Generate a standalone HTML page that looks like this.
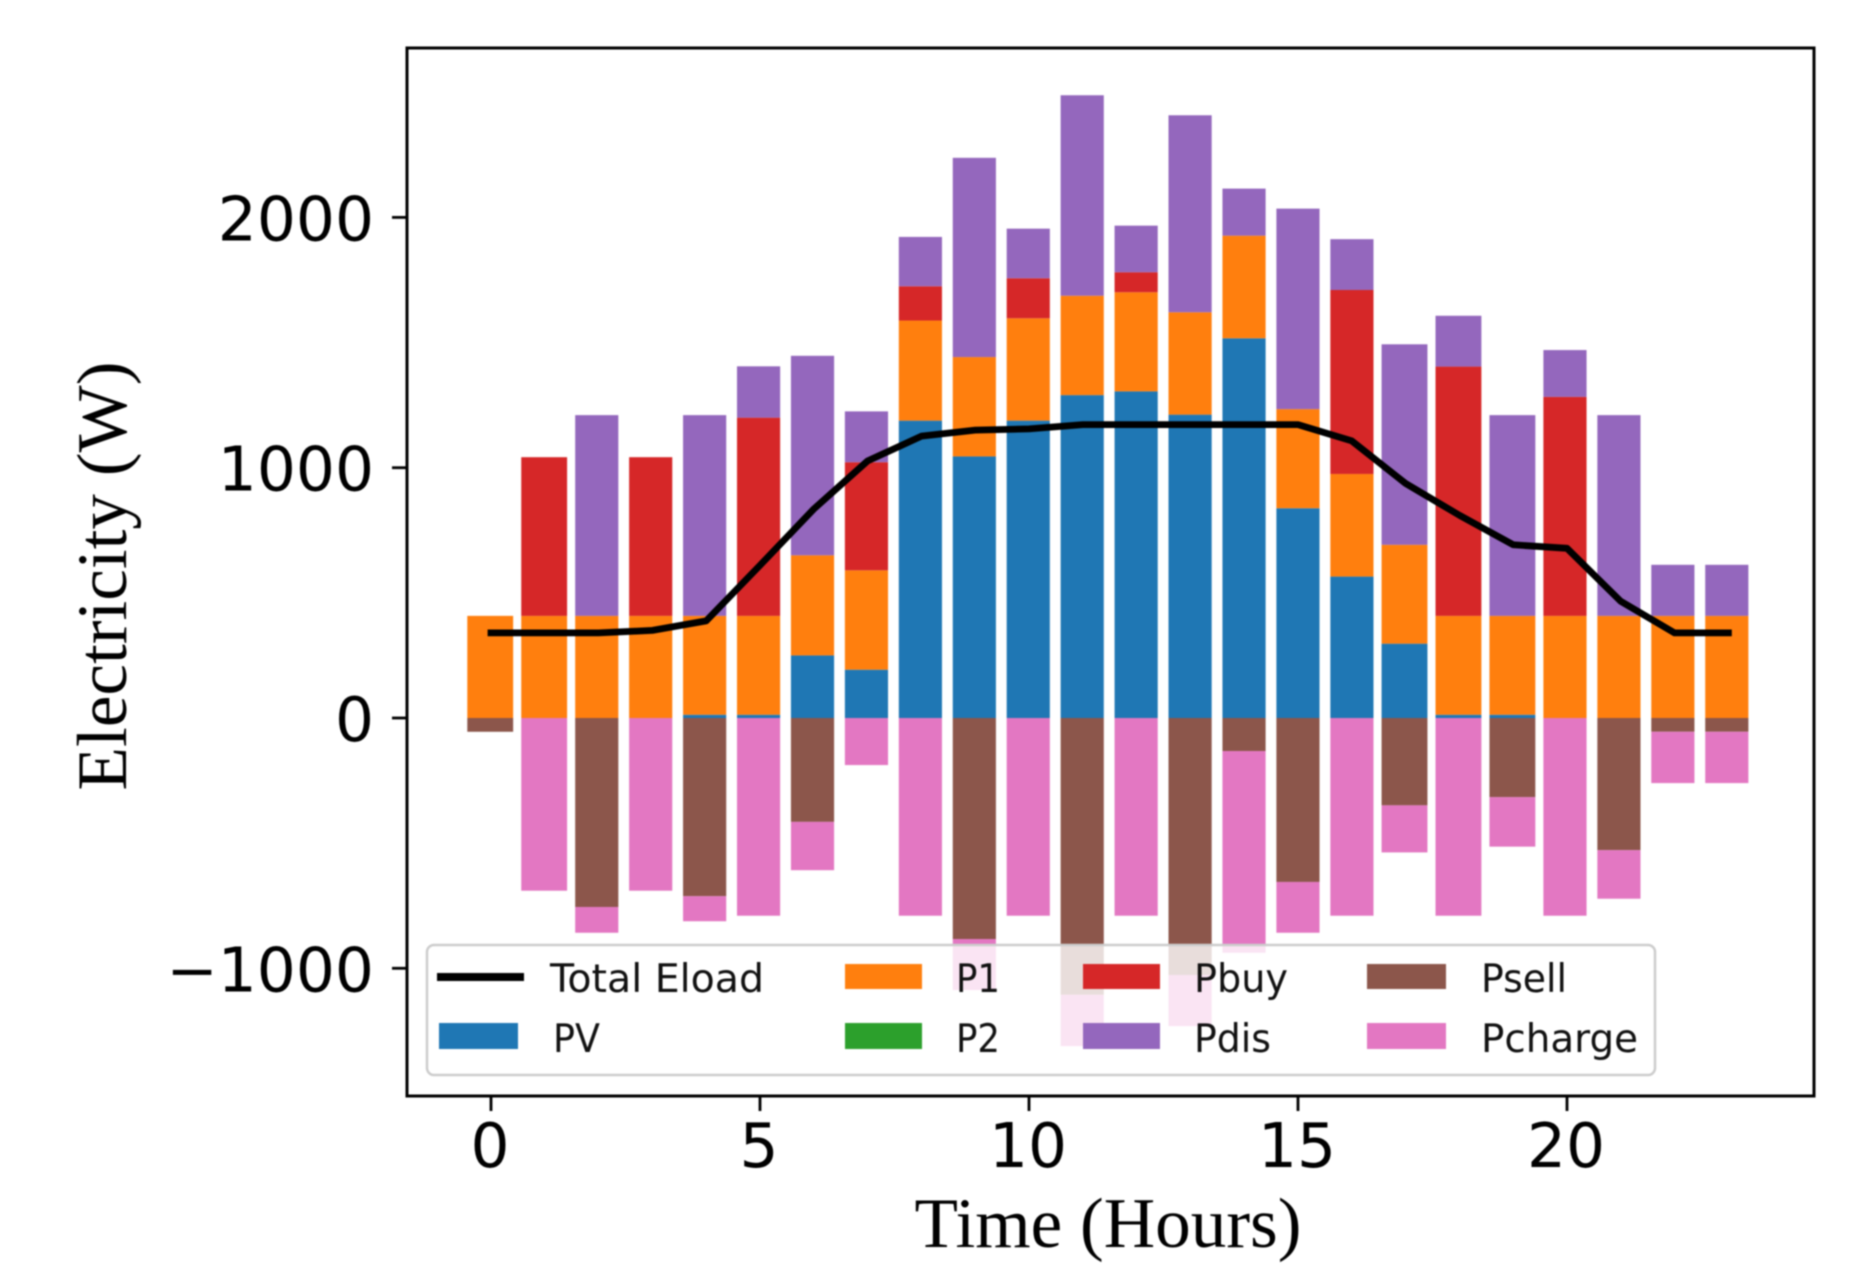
<!DOCTYPE html>
<html lang="en">
<head>
<meta charset="utf-8">
<title>Electricity by hour</title>
<style>
html,body{margin:0;padding:0;background:#fff;}
#chart{display:block;width:1850px;height:1288px;filter:blur(0.9px);}
.tick-label{font-family:"DejaVu Sans","Liberation Sans",sans-serif;font-size:61.4px;fill:#000;}
.axis-title{font-family:"Liberation Serif",serif;font-size:71.2px;fill:#000;}
.legend-label{font-family:"DejaVu Sans","Liberation Sans",sans-serif;font-size:39.5px;fill:#111;}
</style>
</head>
<body>
<svg id="chart" xmlns="http://www.w3.org/2000/svg" width="1850" height="1288" viewBox="0 0 1850 1288">
  <rect x="0" y="0" width="1850" height="1288" fill="#fff"/>
  <g id="bars"></g>
  <g id="line"></g>
  <g id="x-ticks"></g>
  <g id="y-ticks"></g>
  <rect x="407" y="48" width="1407" height="1048" fill="none" stroke="#000" stroke-width="3"/>
  <text class="axis-title" x="1108" y="1247" text-anchor="middle">Time (Hours)</text>
  <text class="axis-title" transform="translate(126,576) rotate(-90)" text-anchor="middle">Electricity (W)</text>
  <g>
    <rect x="427" y="945" width="1228" height="130" rx="7" ry="7" fill="#fff" fill-opacity="0.8" stroke="#ccc" stroke-width="2.5"/>
    <g>
      <line x1="437" y1="977" x2="524" y2="977" stroke="#000" stroke-width="8"/>
      <text class="legend-label" x="550" y="992" textLength="214" lengthAdjust="spacingAndGlyphs">Total Eload</text>
    </g>
    <g>
      <rect x="439" y="1023" width="79" height="26" fill="#1f77b4"/>
      <text class="legend-label" x="553" y="1052" textLength="47" lengthAdjust="spacingAndGlyphs">PV</text>
    </g>
    <g>
      <rect x="845" y="964" width="77" height="25" fill="#ff7f0e"/>
      <text class="legend-label" x="956" y="992" textLength="44" lengthAdjust="spacingAndGlyphs">P1</text>
    </g>
    <g>
      <rect x="845" y="1023" width="77" height="26" fill="#2ca02c"/>
      <text class="legend-label" x="956" y="1052" textLength="44" lengthAdjust="spacingAndGlyphs">P2</text>
    </g>
    <g>
      <rect x="1083" y="964" width="77" height="25" fill="#d62728"/>
      <text class="legend-label" x="1194" y="992" textLength="94" lengthAdjust="spacingAndGlyphs">Pbuy</text>
    </g>
    <g>
      <rect x="1083" y="1023" width="77" height="26" fill="#9467bd"/>
      <text class="legend-label" x="1194" y="1052" textLength="77" lengthAdjust="spacingAndGlyphs">Pdis</text>
    </g>
    <g>
      <rect x="1367" y="964" width="79" height="25" fill="#8c564b"/>
      <text class="legend-label" x="1481" y="992" textLength="86" lengthAdjust="spacingAndGlyphs">Psell</text>
    </g>
    <g>
      <rect x="1367" y="1023" width="79" height="26" fill="#e377c2"/>
      <text class="legend-label" x="1481" y="1052" textLength="157" lengthAdjust="spacingAndGlyphs">Pcharge</text>
    </g>
  </g>
</svg>
<script>
const hours = [0,1,2,3,4,5,6,7,8,9,10,11,12,13,14,15,16,17,18,19,20,21,22,23];
const pv = [0,0,0,0,13,13,250,193,1188,1045,1188,1290,1305,1212,1517,838,565,297,13,13,0,0,0,0];
const p1 = [408,408,408,408,395,395,400,397,400,397,409,397,396,409,410,396,410,395,395,395,408,408,408,408];
const p2 = [0,0,0,0,0,0,0,0,0,0,0,0,0,0,0,0,0,0,0,0,0,0,0,0];
const pbuy = [0,634,0,634,0,792,0,432,137,0,160,0,80,0,0,0,735,0,996,0,875,0,0,0];
const pdis = [0,0,802,0,802,205,797,203,197,796,198,801,186,787,188,801,203,801,203,802,187,802,204,204];
const psell = [55,0,755,0,712,0,415,0,0,883,0,1106,0,1027,132,655,0,349,0,316,0,528,55,55];
const pcharge = [0,690,103,690,100,790,193,188,790,204,790,205,790,204,806,203,790,188,790,198,790,194,205,205];
const totalEload = [340,340,340,350,388,610,835,1027,1126,1150,1155,1172,1172,1172,1172,1172,1107,937,810,692,678,466,340,340];
const xTickValues = [0,5,10,15,20];
const yTickValues = [-1000,0,1000,2000];

const SVG_NS = 'http://www.w3.org/2000/svg';
const xScale = h => 491 + 53.8 * h;
const yScale = v => 718 - 0.2503 * v;
// The reference was rasterised at low resolution and upscaled, so bar edges sit on a coarse pixel grid.
const barLeft = h => 467.3 + 2.697 * Math.round(0.4167 + 19.944 * h);
const barRight = h => 467.3 + 2.697 * Math.round(16.5833 + 19.944 * h);

function make(tag, attrs, parent) {
  const el = document.createElementNS(SVG_NS, tag);
  Object.keys(attrs).forEach(k => el.setAttribute(k, attrs[k]));
  parent.appendChild(el);
  return el;
}

const barsGroup = document.getElementById('bars');
const positiveStack = [['pv', pv, '#1f77b4'], ['p1', p1, '#ff7f0e'], ['p2', p2, '#2ca02c'], ['pbuy', pbuy, '#d62728'], ['pdis', pdis, '#9467bd']];
const negativeStack = [['psell', psell, '#8c564b'], ['pcharge', pcharge, '#e377c2']];

hours.forEach((h, i) => {
  const left = barLeft(h);
  const width = barRight(h) - left;
  let up = 0;
  positiveStack.forEach(s => {
    const v = s[1][i];
    if (v > 0) {
      const r = make('rect', {x: left, y: yScale(up + v), width: width, height: yScale(up) - yScale(up + v), fill: s[2]}, barsGroup);
      
      
    }
    up += v;
  });
  let down = 0;
  negativeStack.forEach(s => {
    const v = s[1][i];
    if (v > 0) {
      const r = make('rect', {x: left, y: yScale(-down), width: width, height: yScale(-down - v) - yScale(-down), fill: s[2]}, barsGroup);
      
      
    }
    down += v;
  });
});

const linePoints = hours.map((h, i) => xScale(h) + ',' + yScale(totalEload[i])).join(' ');
const loadLine = make('polyline', {points: linePoints, fill: 'none', stroke: '#000', 'stroke-width': 6.8, 'stroke-linecap': 'square', 'stroke-linejoin': 'round'}, document.getElementById('line'));



const xTicksGroup = document.getElementById('x-ticks');
xTickValues.forEach(v => {
  const t = make('line', {x1: xScale(v), x2: xScale(v), y1: 1096, y2: 1111, stroke: '#000', 'stroke-width': 2.8}, xTicksGroup);
  
  
  const l = make('text', {x: xScale(v) - 1, y: 1167, 'text-anchor': 'middle', class: 'tick-label'}, xTicksGroup);
  
  
  l.textContent = String(v);
});

const yTicksGroup = document.getElementById('y-ticks');
yTickValues.forEach(v => {
  const t = make('line', {x1: 392, x2: 407, y1: yScale(v), y2: yScale(v), stroke: '#000', 'stroke-width': 2.8}, yTicksGroup);
  
  
  const l = make('text', {x: 374, y: yScale(v) + 23, 'text-anchor': 'end', class: 'tick-label'}, yTicksGroup);
  
  
  l.textContent = v < 0 ? '\u2212' + Math.abs(v) : String(v);
});
</script>
</body>
</html>
